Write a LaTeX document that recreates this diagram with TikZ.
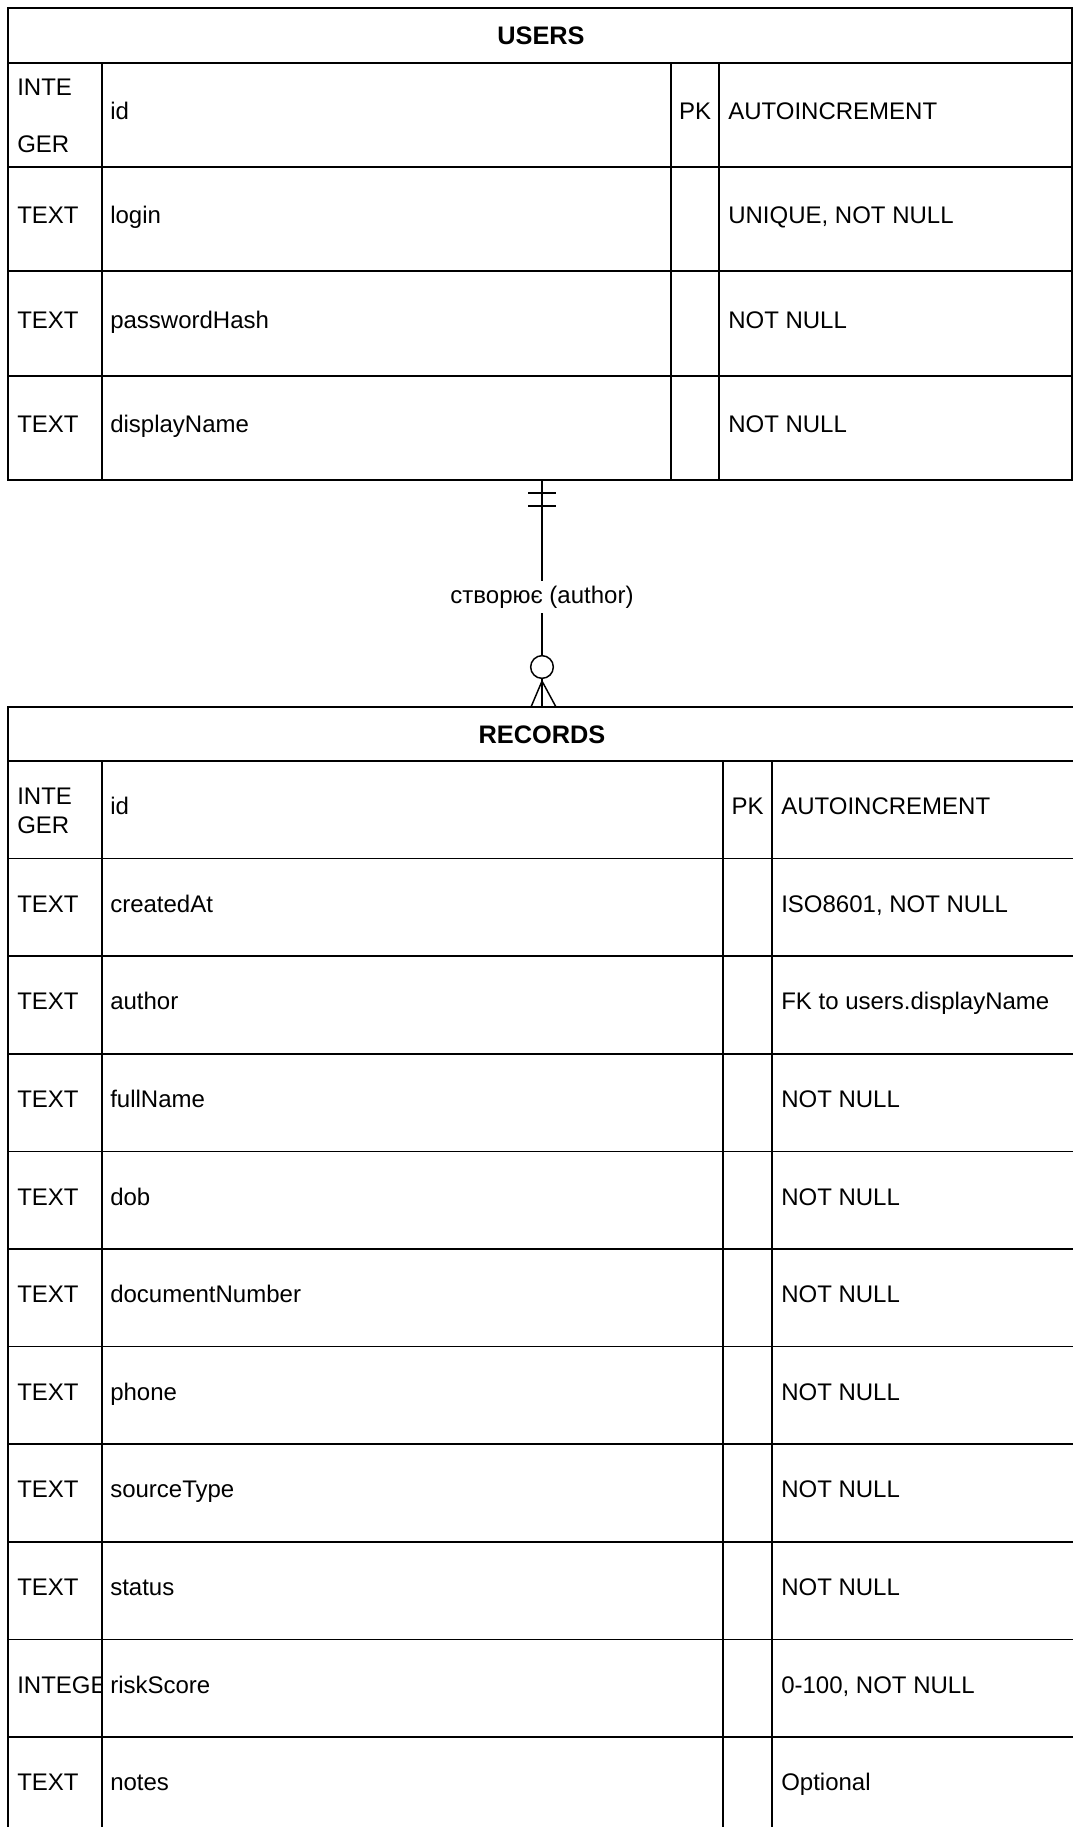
\documentclass[tikz,border=0pt]{standalone}
\usepackage{fontspec}
\setmainfont{Liberation Sans}
\usetikzlibrary{positioning, calc}

\tikzset{
    cell/.style={anchor=west, inner sep=0pt, text height=0.72em, text depth=0pt,
        font=\fontsize{18}{21.6}\selectfont},
    pk/.style={inner sep=0pt, text height=0.72em, text depth=0pt,
        font=\fontsize{18}{21.6}\selectfont},
    title/.style={inner sep=0pt, font=\fontsize{19}{22}\selectfont\bfseries},
    grid line/.style={line width=1.2pt},
    rel line/.style={line width=1.1pt},
}

\begin{document}
\begin{tikzpicture}[x=0.75pt, y=-0.75pt]
    \useasboundingbox (0,0) rectangle (1073,1827);
    % USERS
    \draw[grid line] (8,8) rectangle (1072,480);
    \draw[grid line] (8,63) -- (1072,63);
    \foreach \y in {167,271,376} \draw[grid line] (8,\y) -- (1072,\y);
    \foreach \x in {102,671,719} \draw[grid line] (\x,63) -- (\x,480);
    \node[title] (usersTitle) at (541,36) {USERS};
    \node[cell, align=left, text height=, font=\fontsize{18}{42.75}\selectfont] (uType1) at (17,116) {INTE\\GER};
    \node[cell] (uName1) at (110,115) {id};
    \node[pk] (uKey1) at (695,115) {PK};
    \node[cell] (uNote1) at (728,115) {AUTOINCREMENT};
    \foreach \n/\yc/\f/\c in {2/219/login/{UNIQUE, NOT NULL},
                              3/323.5/passwordHash/{NOT NULL},
                              4/428/displayName/{NOT NULL}} {
        \node[cell] (uType\n) at (17,\yc) {TEXT};
        \node[cell] (uName\n) at (110,\yc) {\f};
        \node[cell] (uNote\n) at (728,\yc) {\c};
    }
    % RECORDS
    \def\rowh{97.6}
    \draw[grid line] (8,1840) -- (8,707) -- (1080,707);
    \draw[grid line] (8,761) -- (1080,761);
    \foreach \k in {1,...,10} \draw[grid line] (8,761+\k*\rowh) -- (1080,761+\k*\rowh);
    \foreach \x in {102,723,772} \draw[grid line] (\x,761) -- (\x,1840);
    \node[title] (recordsTitle) at (542,735) {RECORDS};
    \node[cell, align=left, text height=] (rType1) at (17,811) {INTE\\GER};
    \node[cell] (rName1) at (110,810) {id};
    \node[pk] (rKey1) at (747.5,810) {PK};
    \node[cell] (rNote1) at (781,810) {AUTOINCREMENT};
    \foreach \n/\t/\f/\c [evaluate=\n as \yc using 761+\rowh*(\n-0.5)] in {
            2/TEXT/createdAt/{ISO8601, NOT NULL},
            3/TEXT/author/{FK to users.displayName},
            4/TEXT/fullName/{NOT NULL},
            5/TEXT/dob/{NOT NULL},
            6/TEXT/documentNumber/{NOT NULL},
            7/TEXT/phone/{NOT NULL},
            8/TEXT/sourceType/{NOT NULL},
            9/TEXT/status/{NOT NULL},
            10/{}/riskScore/{0-100, NOT NULL},
            11/TEXT/notes/Optional} {
        \node[cell] (rType\n) at (17,\yc) {\t};
        \node[cell] (rName\n) at (110,\yc) {\f};
        \node[cell] (rNote\n) at (781,\yc) {\c};
    }
    \begin{scope}
        \clip (8,1639) rectangle (102,1737);
        \node[cell] (rTypeRisk) at (17,1688.2) {INTEGER};
    \end{scope}
    % relationship
    \coordinate (usersBottom) at (542,480);
    \coordinate (recordsTop) at (542,707);
    \node[circle, draw, rel line, fill=white, inner sep=0pt, minimum size=17pt] (zeroMark) at (542,667) {};
    \draw[rel line] (usersBottom) -- (zeroMark.north);
    \draw[rel line] ($(usersBottom)+(-14,13)$) -- ++(28,0);
    \draw[rel line] ($(usersBottom)+(-14,26)$) -- ++(28,0);
    \draw[rel line] (zeroMark.south) -- (recordsTop);
    \draw[rel line] ($(recordsTop)+(-11,0)$) -- ($(zeroMark.south)+(0,2)$) -- ($(recordsTop)+(14,0)$);
    \node[fill=white, inner sep=0pt, minimum height=24pt, font=\fontsize{18}{21.6}\selectfont] (relLabel) at (542,597) {створює (author)};
\end{tikzpicture}
\end{document}
